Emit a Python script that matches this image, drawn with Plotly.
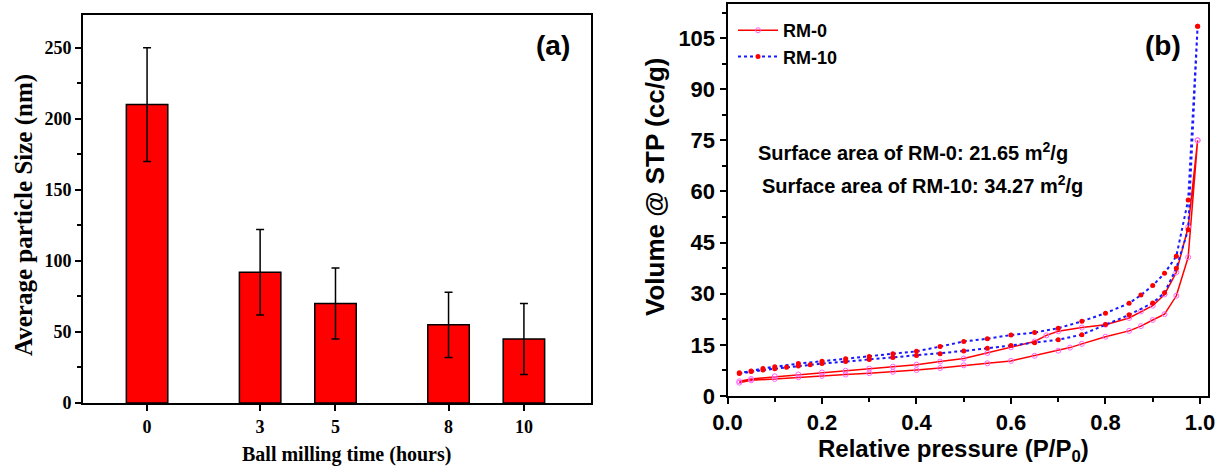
import plotly.graph_objects as go

# ---------------- Panel (a) data ----------------
mill_hours = [0, 3, 5, 8, 10]
particle_size = [210, 92, 70, 55, 45]
size_err = [40, 30, 25, 23, 25]

# ---------------- Panel (b) data ----------------
rm0_ads_p = [0.025, 0.05, 0.1, 0.15, 0.2, 0.25, 0.3, 0.35, 0.4, 0.45, 0.5, 0.55, 0.6, 0.65, 0.7,
             0.725, 0.75, 0.8, 0.85, 0.875, 0.9, 0.925, 0.95, 0.975, 0.995]
rm0_ads_v = [3.9, 4.6, 5.0, 5.5, 5.9, 6.3, 6.7, 7.1, 7.6, 8.2, 9.0, 9.6, 10.3, 11.8, 13.3,
             14.2, 15.3, 17.4, 19.1, 20.5, 22.3, 24.0, 29.4, 40.7, 75.0]
rm0_des_p = [0.995, 0.975, 0.95, 0.925, 0.9, 0.875, 0.85, 0.8, 0.75, 0.7, 0.675, 0.65, 0.6, 0.55,
             0.5, 0.45, 0.4, 0.35, 0.3, 0.25, 0.2, 0.15, 0.1, 0.05, 0.025]
rm0_des_v = [75.0, 49.5, 36.3, 29.8, 26.5, 24.8, 22.9, 20.9, 20.1, 19.0, 17.8, 16.0, 14.3, 12.6,
             11.0, 10.1, 9.2, 8.6, 8.0, 7.4, 6.9, 6.3, 5.8, 5.0, 4.3]

rm10_ads_p = [0.025, 0.05, 0.075, 0.1, 0.125, 0.15, 0.175, 0.2, 0.25, 0.3, 0.35, 0.4, 0.45, 0.5,
              0.55, 0.6, 0.65, 0.7, 0.75, 0.8, 0.85, 0.9, 0.925, 0.95, 0.975, 0.995]
rm10_ads_v = [6.6, 7.2, 7.6, 8.0, 8.4, 8.8, 9.2, 9.5, 10.1, 10.7, 11.3, 11.9, 12.4, 13.2,
              14.0, 14.8, 15.6, 16.5, 18.0, 21.0, 23.8, 27.3, 30.3, 37.5, 48.8, 108.5]
rm10_des_p = [0.995, 0.975, 0.95, 0.925, 0.9, 0.875, 0.85, 0.8, 0.75, 0.7, 0.65, 0.6, 0.55, 0.5,
              0.45, 0.4, 0.35, 0.3, 0.25, 0.2, 0.15, 0.1, 0.075, 0.05, 0.025]
rm10_des_v = [108.5, 57.5, 41.0, 36.0, 32.4, 29.6, 27.2, 24.3, 21.9, 19.9, 18.6, 17.9, 16.8, 16.0,
              14.5, 13.1, 12.4, 11.6, 10.9, 10.2, 9.5, 8.6, 8.1, 7.3, 6.8]

W, H = 1222, 467
SERIF = "Liberation Serif"
SANS = "Liberation Sans"

fig = go.Figure()

fig.add_trace(go.Bar(
    x=mill_hours, y=particle_size, width=1.1,
    marker=dict(color="#ff0000", line=dict(color="black", width=1.5)),
    error_y=dict(type="data", array=size_err, color="black", thickness=1.5, width=4),
    xaxis="x", yaxis="y", showlegend=False))

rm0_style = dict(mode="lines+markers", line=dict(color="#ff0000", width=1.5),
                 marker=dict(symbol="circle-open", size=5, color="#ff66ff", line=dict(width=1)),
                 xaxis="x2", yaxis="y2")
rm10_style = dict(mode="lines+markers", line=dict(color="#1a1aff", width=2, dash="dot"),
                  marker=dict(symbol="circle", size=5, color="#ff0000"),
                  xaxis="x2", yaxis="y2")

fig.add_trace(go.Scatter(x=rm0_ads_p + rm0_des_p, y=rm0_ads_v + rm0_des_v, name="RM-0", **rm0_style))
fig.add_trace(go.Scatter(x=rm10_ads_p + rm10_des_p, y=rm10_ads_v + rm10_des_v, name="RM-10", **rm10_style))

axis_common = dict(showline=True, linecolor="black", linewidth=2, mirror=True,
                   ticks="outside", tickcolor="black", tickwidth=2, ticklen=6,
                   showgrid=False, zeroline=False, automargin=False)

fig.update_layout(
    width=W, height=H, margin=dict(l=0, r=0, t=0, b=0),
    paper_bgcolor="white", plot_bgcolor="white",
    xaxis=dict(domain=[83 / W, 591 / W], range=[-1.70, 11.78],
               tickvals=mill_hours, ticktext=[str(h) for h in mill_hours],
               tickfont=dict(family=SERIF, size=18, color="black", weight="bold"),
               **axis_common),
    yaxis=dict(domain=[1 - 403 / H, 1 - 15 / H], range=[0, 273], dtick=50,
               minor=dict(ticks="outside", dtick=25, ticklen=4, tickwidth=2, tickcolor="black"),
               tickfont=dict(family=SERIF, size=18, color="black", weight="bold"),
               **axis_common),
    xaxis2=dict(domain=[727.5 / W, 1208 / W], range=[0, 1.017], dtick=0.2, tickformat=".1f",
                minor=dict(ticks="outside", dtick=0.1, ticklen=4, tickwidth=2, tickcolor="black"),
                tickfont=dict(family=SANS, size=22, color="black", weight="bold"),
                anchor="y2", **axis_common),
    yaxis2=dict(domain=[1 - 396 / H, 1 - 4 / H], range=[0, 115], dtick=15,
                minor=dict(ticks="outside", dtick=7.5, ticklen=4, tickwidth=2, tickcolor="black"),
                tickfont=dict(family=SANS, size=22, color="black", weight="bold"),
                anchor="x2", **axis_common),
    legend=dict(x=733 / W, y=1 - 12 / H, xanchor="left", yanchor="top",
                bgcolor="rgba(0,0,0,0)", font=dict(family=SANS, size=18, color="black", weight="bold"),
                tracegroupgap=0, itemwidth=40),
)

def note(x, y, text, family, size, angle=0, anchor="center"):
    fig.add_annotation(x=x / W, y=1 - y / H, xref="paper", yref="paper", text=text,
                       showarrow=False, textangle=angle, xanchor=anchor, yanchor="middle",
                       font=dict(family=family, size=size, color="black"))

# axis titles
note(24, 215, "<b>Average particle Size (nm)</b>", SERIF, 25, angle=-90)
note(346, 454, "<b>Ball milling time (hours)</b>", SERIF, 20)
note(655, 187, "<b>Volume @ STP (cc/g)</b>", SANS, 26, angle=-90)
note(953, 450, "<b>Relative pressure (P/P<sub>0</sub>)</b>", SANS, 24)

# panel labels and notes
note(553, 45, "<b>(a)</b>", SANS, 28)
note(1163, 45, "<b>(b)</b>", SANS, 28)
note(756, 151, "<b>Surface area of RM-0: 21.65 m<sup>2</sup>/g</b>", SANS, 20, anchor="left")
note(760, 184, "<b>Surface area of RM-10: 34.27 m<sup>2</sup>/g</b>", SANS, 20, anchor="left")

fig.write_html("out.html", config={"displayModeBar": False},
               post_script="document.body.style.margin='0';document.body.style.padding='0';")
